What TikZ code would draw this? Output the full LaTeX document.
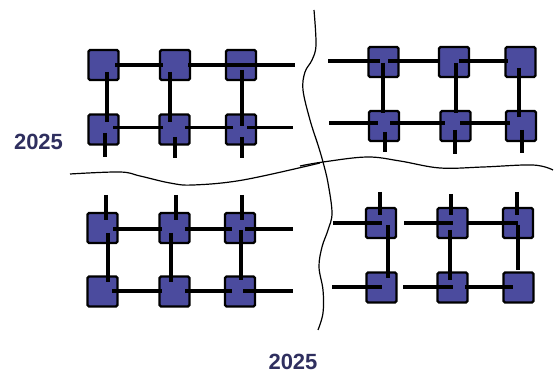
\documentclass[tikz,border=0pt]{standalone}
\usepackage{fontspec}
\setmainfont{Liberation Sans}
\definecolor{sqblue}{HTML}{4B4B9E}
\definecolor{txtnavy}{HTML}{2F2F5F}
\begin{document}
\begin{tikzpicture}[x=1pt,y=-1pt,
  sq/.style={draw=black,line width=2.3pt,fill=sqblue,rounded corners=1.5pt,minimum size=30pt,inner sep=0pt},
  link/.style={draw=black,line width=3.2pt},
  divider/.style={draw=black,line width=1.2pt},
  yeartxt/.style={text=txtnavy,font=\fontsize{22}{24}\selectfont\bfseries,inner sep=0pt}]
\useasboundingbox (0,0) rectangle (555,374);
% dividers
\draw[divider] plot[smooth,tension=0.6] coordinates {(314,10) (316,45) (312,60) (305,72) (303,90) (310,120) (318,145) (323,162) (328,183) (332,213) (328,230) (322,247) (319,267) (323,290) (323,313) (318,330)};
\draw[divider] plot[smooth,tension=0.6] coordinates {(70,174) (120,172) (140,176) (170,183) (193,185) (243,180) (320,163)};
\draw[divider] plot[smooth,tension=0.6] coordinates {(300,166) (323,162) (367,157) (400,161) (440,168) (483,167) (533,165) (553,170)};
% year labels
\node[yeartxt] (yl) at (38.5,142) {2025};
\node[yeartxt] (yb) at (293,362) {2025};
% ---- top-left ----
\node[sq] (a11) at (103.5,65) {};
\node[sq] (a12) at (175,65) {};
\node[sq] (a13) at (241,65) {};
\node[sq] (a21) at (103.5,129.5) {};
\node[sq] (a22) at (174.5,129.5) {};
\node[sq] (a23) at (241,129.5) {};
\coordinate (a1e) at (295,65);
\coordinate (a2e) at (293,127.5);
\coordinate (a1s) at (105,157);
\coordinate (a2s) at (175,158);
\coordinate (a3s) at (242,158);
\draw[link] ([shift={(11.5,0)}]a11.center) -- ([shift={(-12,0)}]a12.center);
\draw[link] ([shift={(13,0)}]a12.center) -- ([shift={(-8,0)}]a13.center);
\draw[link] ([shift={(-8,0)}]a13.center) -- (a1e);
\draw[link] ([shift={(3.5,7)}]a11.center) -- ([shift={(3.5,-7.5)}]a21.center);
\draw[link] ([shift={(1.5,3.5)}]a21.center) -- (a1s);
\draw[link] ([shift={(9.5,-2)}]a21.center) -- ([shift={(-11.5,-2)}]a22.center);
\draw[link] ([shift={(10.5,-2)}]a22.center) -- ([shift={(-8,-2)}]a23.center);
\draw[link] ([shift={(6,-2)}]a23.center) -- (a2e);
\draw[link] ([shift={(-5,7)}]a12.center) -- ([shift={(-4.5,-7.5)}]a22.center);
\draw[link] ([shift={(0.5,7.5)}]a22.center) -- (a2s);
\draw[link] ([shift={(1,5)}]a13.center) -- ([shift={(1,-3)}]a23.center);
\draw[link] ([shift={(1,7.5)}]a23.center) -- (a3s);
% ---- top-right ----
\node[sq] (b11) at (383.5,62) {};
\node[sq] (b12) at (454,62) {};
\node[sq] (b13) at (520.5,62) {};
\node[sq] (b21) at (384,126) {};
\node[sq] (b22) at (455.5,126) {};
\node[sq] (b23) at (521,126) {};
\coordinate (b1w) at (328,61);
\coordinate (b2w) at (329,123);
\coordinate (b1s) at (385,152);
\coordinate (b2s) at (455,154);
\coordinate (b3s) at (522,153);
\draw[link] (b1w) -- ([shift={(-3.5,-1)}]b11.center);
\draw[link] ([shift={(4.5,-1)}]b11.center) -- ([shift={(-14,-1)}]b12.center);
\draw[link] ([shift={(5,-1)}]b12.center) -- ([shift={(-12.5,-1)}]b13.center);
\draw[link] ([shift={(-0.5,1)}]b11.center) -- ([shift={(-1,-13)}]b21.center);
\draw[link] ([shift={(1,6)}]b21.center) -- (b1s);
\draw[link] (b2w) -- ([shift={(-6,-3)}]b21.center);
\draw[link] ([shift={(6,-3)}]b21.center) -- ([shift={(-10.5,-3)}]b22.center);
\draw[link] ([shift={(4.5,-3)}]b22.center) -- ([shift={(-11,-3)}]b23.center);
\draw[link] ([shift={(2,1)}]b12.center) -- ([shift={(0.5,-13)}]b22.center);
\draw[link] ([shift={(-0.5,4)}]b22.center) -- (b2s);
\draw[link] ([shift={(-1.5,6)}]b13.center) -- ([shift={(-2,-9)}]b23.center);
\draw[link] ([shift={(1,4)}]b23.center) -- (b3s);
% ---- bottom-left ----
\node[sq] (c11) at (102.5,228) {};
\node[sq] (c12) at (174.5,228) {};
\node[sq] (c13) at (240,228) {};
\node[sq] (c21) at (102.5,291.5) {};
\node[sq] (c22) at (174.5,291.5) {};
\node[sq] (c23) at (240,291.5) {};
\coordinate (c1n) at (106,195);
\coordinate (c2n) at (176,195);
\coordinate (c3n) at (242,195);
\coordinate (c1e) at (293,229);
\coordinate (c2e) at (293,291);
\draw[link] (c1n) -- ([shift={(3.5,-8)}]c11.center);
\draw[link] (c2n) -- ([shift={(1.5,-8)}]c12.center);
\draw[link] (c3n) -- ([shift={(2,-8)}]c13.center);
\draw[link] ([shift={(10.5,1)}]c11.center) -- ([shift={(-12.5,1)}]c12.center);
\draw[link] ([shift={(10.5,1)}]c12.center) -- ([shift={(-8,1)}]c13.center);
\draw[link] ([shift={(5,1)}]c13.center) -- (c1e);
\draw[link] ([shift={(5.5,5)}]c11.center) -- ([shift={(5.5,-9.5)}]c21.center);
\draw[link] ([shift={(-3.5,5)}]c12.center) -- ([shift={(-3.5,-9.5)}]c22.center);
\draw[link] ([shift={(1,2)}]c13.center) -- ([shift={(1,-11.5)}]c23.center);
\draw[link] ([shift={(9.5,-0.5)}]c21.center) -- ([shift={(-12.5,-0.5)}]c22.center);
\draw[link] ([shift={(10.5,-0.5)}]c22.center) -- ([shift={(-8,-0.5)}]c23.center);
\draw[link] ([shift={(3,-0.5)}]c23.center) -- (c2e);
% ---- bottom-right ----
\node[sq] (d11) at (381,223) {};
\node[sq] (d12) at (452.5,223) {};
\node[sq] (d13) at (518,223) {};
\node[sq] (d21) at (381.5,287.5) {};
\node[sq] (d22) at (452.5,287.5) {};
\node[sq] (d23) at (518.5,287.5) {};
\coordinate (d1n) at (380,192);
\coordinate (d2n) at (451,194);
\coordinate (d3n) at (517,192);
\coordinate (d1w) at (333,223);
\coordinate (d2w) at (332,287);
\draw[link] (d1n) -- ([shift={(-1,-8)}]d11.center);
\draw[link] (d2n) -- ([shift={(-1.5,-8)}]d12.center);
\draw[link] (d3n) -- ([shift={(-1,-8)}]d13.center);
\draw[link] (d1w) -- ([shift={(1,0)}]d11.center);
\draw[link] ([shift={(23,0)}]d11.center) -- ([shift={(0.5,0)}]d12.center);
\draw[link] ([shift={(14.5,0)}]d12.center) -- (d13.center);
\draw[link] ([shift={(7,2)}]d11.center) -- ([shift={(6.5,-9.5)}]d21.center);
\draw[link] ([shift={(-2.5,7)}]d12.center) -- ([shift={(-2.5,-7.5)}]d22.center);
\draw[link] ([shift={(0,2)}]d13.center) -- ([shift={(-0.5,-17.5)}]d23.center);
\draw[link] (d2w) -- ([shift={(0.5,-0.5)}]d21.center);
\draw[link] ([shift={(21.5,-0.5)}]d21.center) -- ([shift={(0.5,-0.5)}]d22.center);
\draw[link] ([shift={(12.5,-0.5)}]d22.center) -- ([shift={(-5.5,-0.5)}]d23.center);
\end{tikzpicture}
\end{document}
